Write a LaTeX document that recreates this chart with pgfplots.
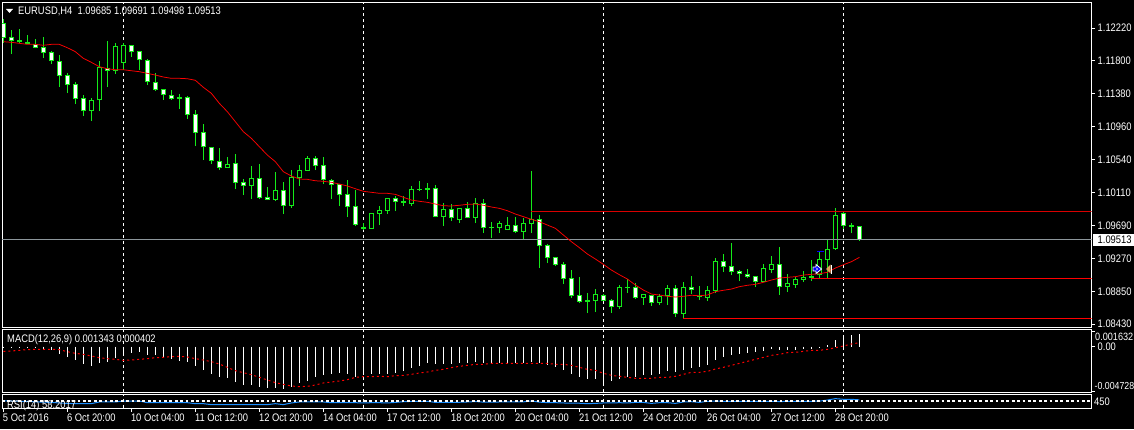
\documentclass[border=0pt]{standalone}
\usepackage{fontspec}
\setmainfont{Liberation Sans}[FakeStretch=0.86]
\usepackage{pgfplots}
\usepackage{pgfplotstable}
\pgfplotsset{compat=1.18}

\definecolor{candle}{RGB}{20,235,25}
\definecolor{rsiblue}{RGB}{30,144,255}
\definecolor{bidgray}{RGB}{140,150,155}
\definecolor{tan}{RGB}{225,160,90}

% EURUSD H4, bars that closed lower (white body)
\pgfplotstableread{
i o h l c
0 1.12279 1.12335 1.12032 1.12096
1 1.12100 1.12194 1.11887 1.12057
2 1.12062 1.12207 1.12023 1.12045
3 1.12040 1.12130 1.12010 1.12015
4 1.12019 1.12079 1.11959 1.11968
5 1.11972 1.12104 1.11836 1.11904
6 1.11908 1.11925 1.11759 1.11801
7 1.11793 1.11874 1.11464 1.11609
8 1.11614 1.11639 1.11388 1.11494
9 1.11498 1.11528 1.11247 1.11315
10 1.11319 1.11362 1.11093 1.11161
13 1.11708 1.12053 1.11464 1.11673
16 1.11998 1.12002 1.11853 1.11917
17 1.11921 1.11921 1.11682 1.11806
18 1.11806 1.11823 1.11494 1.11524
19 1.11524 1.11644 1.11417 1.11430
20 1.11434 1.11439 1.11302 1.11366
21 1.11358 1.11426 1.11302 1.11315
22 1.11336 1.11375 1.11183 1.11315
23 1.11332 1.11345 1.11059 1.11110
24 1.11114 1.11166 1.10709 1.10880
25 1.10884 1.10986 1.10530 1.10692
26 1.10692 1.10696 1.10483 1.10521
27 1.10513 1.10683 1.10402 1.10432
29 1.10487 1.10607 1.10159 1.10240
30 1.10244 1.10282 1.10082 1.10201
32 1.10295 1.10479 1.10031 1.10048
33 1.10052 1.10184 1.10018 1.10022
35 1.10142 1.10248 1.09839 1.09945
39 1.10551 1.10581 1.10402 1.10457
40 1.10462 1.10564 1.10223 1.10278
41 1.10278 1.10282 1.10031 1.10214
42 1.10218 1.10227 1.09941 1.10086
43 1.10090 1.10270 1.09800 1.09933
44 1.09937 1.10146 1.09685 1.09702
45 1.09668 1.09719 1.09634 1.09651
49 1.10039 1.10073 1.09877 1.09997
50 1.10001 1.10069 1.09941 1.09984
52 1.10154 1.10261 1.10129 1.10146
53 1.10167 1.10236 1.10031 1.10150
54 1.10167 1.10210 1.09800 1.09805
56 1.09898 1.09967 1.09749 1.09792
58 1.09911 1.09997 1.09788 1.09792
60 1.09975 1.10026 1.09596 1.09664
61 1.09668 1.09736 1.09531 1.09664
64 1.09694 1.09796 1.09596 1.09613
67 1.09770 1.09822 1.09147 1.09433
68 1.09438 1.09455 1.09211 1.09280
69 1.09284 1.09288 1.09173 1.09186
70 1.09194 1.09224 1.08943 1.09011
71 1.09015 1.09122 1.08763 1.08793
72 1.08798 1.09032 1.08699 1.08717
73 1.08734 1.08823 1.08571 1.08717
75 1.08806 1.08815 1.08725 1.08729
76 1.08734 1.08746 1.08571 1.08653
78 1.08904 1.09007 1.08827 1.08896
79 1.08900 1.08955 1.08755 1.08768
81 1.08798 1.08806 1.08661 1.08704
84 1.08887 1.08930 1.08520 1.08563
86 1.08900 1.09045 1.08815 1.08866
87 1.08793 1.08917 1.08738 1.08776
90 1.09233 1.09327 1.09096 1.09165
91 1.09169 1.09468 1.09058 1.09101
92 1.09105 1.09122 1.08981 1.09075
93 1.09066 1.09135 1.09019 1.09037
94 1.09041 1.09045 1.08904 1.08973
97 1.09194 1.09416 1.08802 1.08909
105 1.09852 1.09865 1.09647 1.09689
106 1.09695 1.09724 1.09596 1.09677
107 1.09685 1.09691 1.09498 1.09513
}\bearbars

% bars that closed higher (black body)
\pgfplotstableread{
i o h l c
11 1.11161 1.11319 1.11029 1.11294
12 1.11294 1.11797 1.11157 1.11716
14 1.11673 1.12028 1.11635 1.11985
15 1.11776 1.12028 1.11686 1.11998
28 1.10432 1.10564 1.10432 1.10474
31 1.10201 1.10453 1.10031 1.10295
34 1.10022 1.10376 1.10005 1.10142
36 1.09945 1.10398 1.09920 1.10308
37 1.10300 1.10466 1.10197 1.10398
38 1.10393 1.10581 1.10393 1.10551
46 1.09651 1.09852 1.09651 1.09847
47 1.09843 1.09941 1.09698 1.09886
48 1.09881 1.10044 1.09843 1.10039
51 1.09971 1.10197 1.09941 1.10154
55 1.09800 1.09975 1.09685 1.09898
57 1.09766 1.09920 1.09724 1.09911
59 1.09792 1.10044 1.09724 1.09975
62 1.09664 1.09753 1.09596 1.09719
63 1.09638 1.09800 1.09634 1.09694
65 1.09613 1.09788 1.09514 1.09719
66 1.09715 1.10389 1.09596 1.09775
74 1.08729 1.08879 1.08584 1.08810
77 1.08653 1.08930 1.08623 1.08900
80 1.08763 1.08815 1.08674 1.08810
82 1.08699 1.08815 1.08674 1.08785
83 1.08785 1.08930 1.08674 1.08887
85 1.08563 1.08968 1.08495 1.08900
88 1.08768 1.08913 1.08725 1.08862
89 1.08853 1.09276 1.08827 1.09233
95 1.08973 1.09199 1.08968 1.09143
96 1.09126 1.09301 1.09084 1.09194
98 1.08909 1.09071 1.08840 1.08951
99 1.08934 1.09032 1.08891 1.09002
100 1.08998 1.09109 1.08968 1.09032
101 1.09024 1.09250 1.08981 1.09049
102 1.09058 1.09353 1.09007 1.09263
103 1.09250 1.09506 1.09007 1.09387
104 1.09387 1.09916 1.09378 1.09823
}\bullbars

% red moving average, MACD histogram and signal, RSI
\pgfplotstableread{
i ma hist sig rsi
0 1.12045 -0.000052 -0.000508 52
1 1.12037 -0.000088 -0.000472 50
2 1.12024 -0.000052 -0.000402 48
3 1.12011 -0.000052 -0.000332 47
4 1.12011 -0.000192 -0.000298 44
5 1.11999 -0.000298 -0.000298 42
6 1.12011 -0.000332 -0.000298 40
7 1.12011 -0.000752 -0.000332 36
8 1.11968 -0.001102 -0.000542 33
9 1.11917 -0.001382 -0.000718 31
10 1.11832 -0.001802 -0.000822 31
11 1.11781 -0.002012 -0.000998 31
12 1.11725 -0.001732 -0.001172 43
13 1.11699 -0.001592 -0.001278 43
14 1.11686 -0.001242 -0.001348 43
15 1.11686 -0.000892 -0.001452 50
16 1.11673 -0.000718 -0.001418 50
17 1.11661 -0.000612 -0.001348 50
18 1.11640 -0.000892 -0.001278 38
19 1.11618 -0.000892 -0.001172 38
20 1.11593 -0.001242 -0.001138 38
21 1.11576 -0.001312 -0.001068 38
22 1.11576 -0.001522 -0.001032 38
23 1.11571 -0.001592 -0.001102 38
24 1.11551 -0.002012 -0.001278 31
25 1.11461 -0.002432 -0.001418 31
26 1.11384 -0.002852 -0.001592 24
27 1.11256 -0.003168 -0.001838 24
28 1.11149 -0.003272 -0.002188 24
29 1.11021 -0.003692 -0.002538 24
30 1.10893 -0.004008 -0.002748 24
31 1.10808 -0.004042 -0.002958 24
32 1.10701 -0.004252 -0.003238 24
33 1.10594 -0.004322 -0.003518 24
34 1.10509 -0.004392 -0.003798 31
35 1.10381 -0.004428 -0.003972 24
36 1.10326 -0.004288 -0.004148 36
37 1.10287 -0.003832 -0.004218 43
38 1.10283 -0.003622 -0.004182 43
39 1.10265 -0.003168 -0.004042 43
40 1.10258 -0.002992 -0.003832 43
41 1.10245 -0.002922 -0.003728 38
42 1.10223 -0.002818 -0.003622 38
43 1.10198 -0.002852 -0.003482 38
44 1.10163 -0.003168 -0.003238 38
45 1.10130 -0.002992 -0.003168 36
46 1.10117 -0.002922 -0.003168 38
47 1.10104 -0.002852 -0.003132 38
48 1.10104 -0.002852 -0.003168 36
49 1.10091 -0.002782 -0.003062 40
50 1.10053 -0.002538 -0.003028 45
51 1.10018 -0.002258 -0.002922 47
52 1.10002 -0.002012 -0.002782 48
53 1.09989 -0.001732 -0.002678 48
54 1.09967 -0.001838 -0.002502 40
55 1.09945 -0.001838 -0.002398 40
56 1.09942 -0.001838 -0.002222 41
57 1.09951 -0.001732 -0.002082 41
58 1.09963 -0.001732 -0.001978 43
59 1.09967 -0.001662 -0.001872 46
60 1.09951 -0.001732 -0.001872 42
61 1.09929 -0.001768 -0.001768 42
62 1.09912 -0.001732 -0.001768 43
63 1.09881 -0.001768 -0.001768 43
64 1.09839 -0.001768 -0.001768 43
65 1.09805 -0.001768 -0.001768 44
66 1.09771 -0.001662 -0.001768 50
67 1.09741 -0.001768 -0.001768 42
68 1.09698 -0.001908 -0.001768 38
69 1.09656 -0.002152 -0.001872 38
70 1.09570 -0.002432 -0.001872 36
71 1.09485 -0.002852 -0.001978 34
72 1.09408 -0.003202 -0.002188 34
73 1.09327 -0.003412 -0.002398 31
74 1.09263 -0.003412 -0.002502 33
75 1.09195 -0.003832 -0.002818 36
76 1.09122 -0.003622 -0.003028 36
77 1.09062 -0.003412 -0.003132 38
78 1.09007 -0.003238 -0.003238 36
79 1.08930 -0.003238 -0.003342 40
80 1.08866 -0.002958 -0.003342 40
81 1.08815 -0.002958 -0.003342 33
82 1.08802 -0.002888 -0.003238 38
83 1.08786 -0.002572 -0.003238 38
84 1.08777 -0.002678 -0.003132 33
85 1.08786 -0.002468 -0.002922 43
86 1.08799 -0.002258 -0.002712 45
87 1.08793 -0.002152 -0.002712 40
88 1.08802 -0.001942 -0.002608 48
89 1.08845 -0.001418 -0.002362 49
90 1.08863 -0.001102 -0.002188 48
91 1.08879 -0.000892 -0.001978 47
92 1.08909 -0.000788 -0.001768 47
93 1.08927 -0.000682 -0.001558 47
94 1.08939 -0.000578 -0.001348 47
95 1.08965 -0.000472 -0.001138 48
96 1.08994 -0.000262 -0.000928 48
97 1.09020 -0.000368 -0.000822 46
98 1.09029 -0.000368 -0.000648 47
99 1.09037 -0.000368 -0.000612 47
100 1.09058 -0.000262 -0.000508 48
101 1.09067 -0.000262 -0.000402 48
102 1.09075 -0.000052 -0.000402 49
103 1.09093 0.000158 -0.000298 57
104 1.09148 0.000682 -0.000122 67
105 1.09190 0.000962 0.000052 62
106 1.09229 0.001208 0.000262 62
107 1.09285 0.001343 0.000402 58.2017
}\indicators

\pgfdeclareplotmark{buyarrow}{%
  \pgfsetlinewidth{0.8pt}\pgfsetstrokecolor{white}\pgfsetfillcolor{blue}%
  \pgfpathmoveto{\pgfqpoint{-4pt}{2pt}}\pgfpathlineto{\pgfqpoint{-1pt}{2pt}}%
  \pgfpathlineto{\pgfqpoint{-1pt}{4.5pt}}\pgfpathlineto{\pgfqpoint{4.5pt}{0pt}}%
  \pgfpathlineto{\pgfqpoint{-1pt}{-4.5pt}}\pgfpathlineto{\pgfqpoint{-1pt}{-2pt}}%
  \pgfpathlineto{\pgfqpoint{-4pt}{-2pt}}\pgfpathclose\pgfusepathqfillstroke
  \pgfsetfillcolor{white}\pgfpathcircle{\pgfpointorigin}{0.9pt}\pgfusepathqfill
}
\pgfdeclareplotmark{closearrow}{%
  \pgfsetfillcolor{tan}%
  \pgfpathmoveto{\pgfqpoint{-3pt}{0pt}}\pgfpathlineto{\pgfqpoint{1.5pt}{4.5pt}}%
  \pgfpathlineto{\pgfqpoint{1.5pt}{-4.5pt}}\pgfpathclose\pgfusepathqfill
  \pgfsetfillcolor{white}\pgfpathrectangle{\pgfqpoint{1.5pt}{-4.5pt}}{\pgfqpoint{1.2pt}{9pt}}\pgfusepathqfill
}

\pgfplotsset{
  every axis/.append style={
    scale only axis, width=1089.5pt, anchor=south west,
    xmin=-0.1625, xmax=136,
    axis line style={white, line width=0.9pt},
    tick style={white, line width=0.8pt},
    tick align=outside, major tick length=3.5pt,
    ytick pos=right, ticklabel pos=right, clip=true,
    scaled y ticks=false,
    every tick label/.append style={font=\fontsize{10.9}{12}\selectfont, text=white},
    yticklabel style={anchor=west, inner sep=0pt, xshift=2.5pt},
  },
  vline/.style={white, line width=0.9pt, dash pattern=on 3pt off 3pt, forget plot},
  wicks/.style={draw=none, mark=none, forget plot,
    error bars/.cd, y dir=plus, y explicit, error mark=none,
    error bar style={candle, line width=1pt, solid}},
  body/.style={draw=none, mark=none, forget plot,
    error bars/.cd, y dir=plus, y explicit, error mark=none,
    error bar style={#1, solid}},
}

\begin{document}
\begin{tikzpicture}
\path[fill=black, use as bounding box] (0pt,0pt) rectangle (1134pt,429pt);

% price panel
\begin{axis}[
  at={(2pt,101.3pt)}, height=325.7pt,
  ymin=1.08384, ymax=1.12553,
  xtick=\empty,
  ytick={1.12220,1.11800,1.11380,1.10960,1.10540,1.10110,1.09690,1.09270,1.08850,1.08430},
  yticklabels={1.12220,1.11800,1.11380,1.10960,1.10540,1.10110,1.09690,1.09270,1.08850,1.08430},
]
  \pgfplotsinvokeforeach{15,45,75,105}{\addplot[vline] coordinates {(#1,1.08384) (#1,1.12553)};}

  % wicks
  \addplot[wicks] table[x=i, y=l, y error plus expr=\thisrow{h}-\thisrow{l}] {\bearbars};
  \addplot[wicks] table[x=i, y=l, y error plus expr=\thisrow{h}-\thisrow{l}] {\bullbars};
  % bodies, outline and then inside
  \addplot[body={candle, line width=5pt}] table[x=i, y=c, y error plus expr=\thisrow{o}-\thisrow{c}] {\bearbars};
  \addplot[body={white, line width=3pt}] table[x=i, y expr=\thisrow{c}+0.000128, y error plus expr={max(\thisrow{o}-\thisrow{c}-0.000256,0)}] {\bearbars};
  \addplot[body={candle, line width=5pt}] table[x=i, y=o, y error plus expr=\thisrow{c}-\thisrow{o}] {\bullbars};
  \addplot[body={black, line width=3pt}] table[x=i, y expr=\thisrow{o}+0.000128, y error plus expr={max(\thisrow{c}-\thisrow{o}-0.000256,0)}] {\bullbars};

  % levels drawn on the chart
  \addplot[bidgray, line width=1pt, forget plot] coordinates {(-0.1625,1.09513) (136,1.09513)};
  \addplot[red!85!black, line width=0.8pt, forget plot] coordinates {(66,1.09874) (136,1.09874)};
  \addplot[red, line width=1pt, forget plot] coordinates {(101,1.09016) (136,1.09016)};
  \addplot[red, line width=1pt, forget plot] coordinates {(85,1.08504) (136,1.08504)};
  \addplot[blue, line width=1pt, forget plot] coordinates {(101.7,1.09353) (102.6,1.09353)};

  \addplot[red, line width=0.75pt, forget plot] table[x=i, y=ma] {\indicators};

  \addplot[only marks, mark=buyarrow, forget plot] coordinates {(101.7,1.09135)};
  \addplot[only marks, mark=closearrow, forget plot] coordinates {(103.2,1.09135)};
\end{axis}

% MACD panel
\begin{axis}[
  at={(2pt,37pt)}, height=62.3pt,
  ymin=-0.004778, ymax=0.001764,
  xtick=\empty,
  ytick={0.001632,0,-0.004728},
  yticklabels={,0.00,},
]
  \pgfplotsinvokeforeach{15,45,75,105}{\addplot[vline] coordinates {(#1,-0.004778) (#1,0.001764)};}
  \addplot[ycomb, white, line width=1pt, mark=none, forget plot] table[x=i, y=hist] {\indicators};
  \addplot[red, line width=1pt, dash pattern=on 2pt off 3pt, mark=none, forget plot] table[x=i, y=sig] {\indicators};
\end{axis}

% RSI panel, dates underneath
\begin{axis}[
  at={(2pt,21pt)}, height=14pt,
  ymin=0, ymax=100,
  xtick={0,8,...,104},
  xticklabels={5 Oct 2016,6 Oct 20:00,10 Oct 04:00,11 Oct 12:00,12 Oct 20:00,14 Oct 04:00,17 Oct 12:00,18 Oct 20:00,20 Oct 04:00,21 Oct 12:00,24 Oct 20:00,26 Oct 04:00,27 Oct 12:00,28 Oct 20:00},
  xtick pos=bottom,
  xticklabel pos=bottom,
  xticklabel style={anchor=north west, inner sep=0pt, xshift=-0.5pt, yshift=-2.5pt},
  ytick=\empty,
]
  \pgfplotsinvokeforeach{15,45,75,105}{\addplot[vline] coordinates {(#1,0) (#1,100)};}
  \addplot[rsiblue, line width=1pt, mark=none, forget plot] table[x=i, y=rsi] {\indicators};
  \addplot[white, line width=1.3pt, dash pattern=on 2.7pt off 2.7pt, forget plot] coordinates {(-0.1625,50) (136,50)};
\end{axis}

% texts that sit on the panels
\fill[white] (6pt,420pt) -- (13pt,420pt) -- (9.5pt,416pt) -- cycle;
\node[anchor=base west, inner sep=0pt, text=white, font=\fontsize{10.9}{12}\selectfont] at (18pt,414.5pt) {EURUSD,H4\ \ 1.09685 1.09691 1.09498 1.09513};
\node[anchor=base west, inner sep=0pt, text=white, font=\fontsize{10.9}{12}\selectfont] at (7pt,87pt) {MACD(12,26,9) 0.001343 0.000402};
\node[anchor=base west, inner sep=0pt, text=white, font=\fontsize{10.9}{12}\selectfont] at (7pt,21pt) {RSI(14) 58.2017};
\node[anchor=west, inner sep=0pt, text=white, font=\fontsize{10.6}{12}\selectfont] at (1095pt,92.5pt) {0.001632};
\node[anchor=west, inner sep=0pt, text=white, font=\fontsize{10.2}{12}\selectfont] at (1094.5pt,43.5pt) {-0.004728};
\node[anchor=west, inner sep=0pt, text=white, font=\fontsize{10.9}{12}\selectfont] at (1094pt,27.5pt) {450};
\fill[white] (1093pt,183.5pt) rectangle (1134pt,195pt);
\node[anchor=west, inner sep=0pt, text=black, font=\fontsize{10.9}{12}\selectfont] at (1097.5pt,189.3pt) {1.09513};
\end{tikzpicture}
\end{document}
